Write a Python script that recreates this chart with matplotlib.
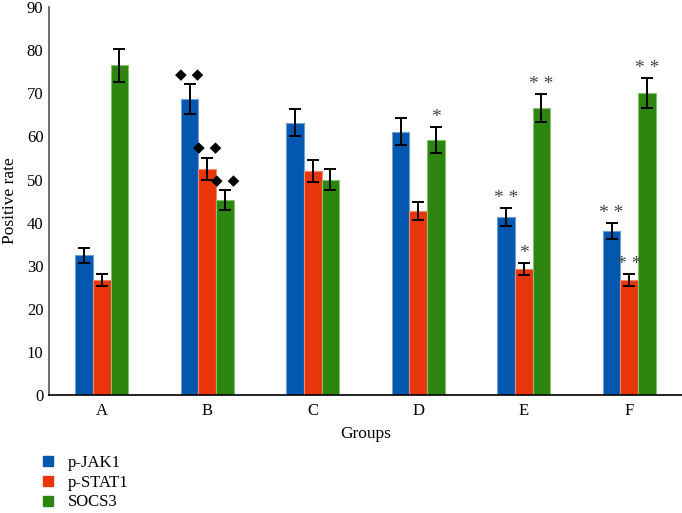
import numpy as np
import matplotlib.pyplot as plt

plt.rcParams['font.family'] = ['Liberation Serif', 'DejaVu Serif', 'DejaVu Sans']

groups = ["A", "B", "C", "D", "E", "F"]
series = ["p-JAK1", "p-STAT1", "SOCS3"]

jak1 = [32.4, 68.7, 63.2, 61.1, 41.3, 38.0]
jak1_err = [1.7, 3.4, 3.2, 3.1, 2.1, 1.9]
stat1 = [26.7, 52.5, 52.0, 42.6, 29.3, 26.7]
stat1_err = [1.3, 2.6, 2.6, 2.1, 1.4, 1.35]
socs3 = [76.5, 45.2, 50.0, 59.2, 66.6, 70.1]
socs3_err = [3.8, 2.3, 2.5, 3.0, 3.3, 3.5]

# significance marks per series / group
marks_jak1 = ["", "\u25c6 \u25c6", "", "", "* *", "* *"]
marks_stat1 = ["", "\u25c6 \u25c6", "", "", "*", "* *"]
marks_socs3 = ["", "\u25c6 \u25c6", "", "*", "* *", "* *"]

colors = ['#0457ae', '#e8350b', '#2b850f']
edges = ['#6f9fd6', '#f08a70', '#86c070']

fig = plt.figure(figsize=(6.82, 5.13), dpi=100)
ax = fig.add_axes([0.0718, 0.230, 0.9282, 0.756])

x = np.arange(len(groups))
w = 0.167
data = [(jak1, jak1_err, marks_jak1), (stat1, stat1_err, marks_stat1), (socs3, socs3_err, marks_socs3)]
for i, (vals, errs, marks) in enumerate(data):
    pos = x + (i - 1) * w
    ax.bar(pos, vals, w, color=colors[i], edgecolor=edges[i], linewidth=0.8,
           label=series[i], zorder=2)
    ax.errorbar(pos, vals, yerr=errs, fmt='none', ecolor='black', elinewidth=1.4,
                capsize=4.3, capthick=1.4, zorder=3)
    for p, v, e, m in zip(pos, vals, errs, marks):
        if not m:
            continue
        if '\u25c6' in m:
            ax.text(p, v + e + 0.5, m, ha='center', va='bottom', fontsize=11,
                    family=['DejaVu Sans'], color='black')
        else:
            ax.text(p, v + e + 0.2, m, ha='center', va='bottom', fontsize=14,
                    color='#444444')

ax.set_xlim(-0.5, 5.5)
ax.set_ylim(0, 90)
ax.set_yticks(range(0, 91, 10))
ax.set_xticks(x)
ax.set_xticklabels(groups)
ax.tick_params(axis='both', length=0, labelsize=12, pad=6)
ax.tick_params(axis='y', pad=4)
ax.spines['top'].set_visible(False)
ax.spines['right'].set_visible(False)
ax.spines['left'].set_color('#555555')
ax.spines['left'].set_linewidth(1.2)
ax.spines['bottom'].set_linewidth(1.2)
ax.set_xlabel('Groups', fontsize=12.5, labelpad=5)
ax.set_ylabel('Positive rate', fontsize=12.5, labelpad=6)

handles = [plt.Line2D([], [], marker='s', linestyle='none', markersize=7,
                      color=c) for c in colors]
fig.legend(handles, series, loc='upper left', bbox_to_anchor=(0.058, 0.113),
           frameon=False, fontsize=12, handlelength=1.0, handletextpad=0.7,
           labelspacing=0.22, borderaxespad=0.0, borderpad=0.0)

fig.savefig('out.png', dpi=100)
